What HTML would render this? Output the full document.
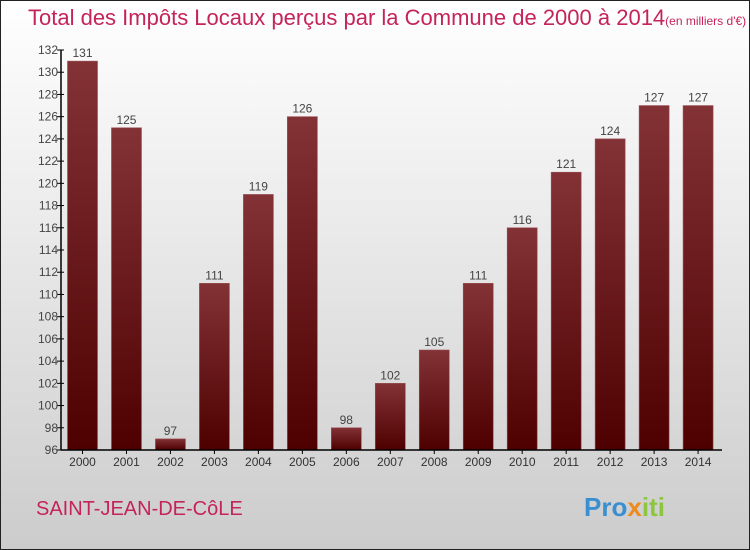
<!DOCTYPE html>
<html><head><meta charset="utf-8"><style>
body{margin:0;}
#c{position:relative;width:750px;height:550px;box-sizing:border-box;border:1px solid #222;background:linear-gradient(#ffffff,#f0f0f0 30%,#cccccc);font-family:"Liberation Sans",sans-serif;overflow:hidden}
</style></head><body>
<div id="c">
<svg width="750" height="550" style="position:absolute;left:-1px;top:-1px">
<defs><linearGradient id="g" x1="0" y1="0" x2="0" y2="1"><stop offset="0" stop-color="#833236"/><stop offset="1" stop-color="#4e0000"/></linearGradient></defs>
<text x="28" y="25" font-size="22" fill="#c4245a">Total des Impôts Locaux perçus par la Commune de 2000 à 2014<tspan font-size="12">(en milliers d'€)</tspan></text>
<g id="plot"></g>
<text x="36" y="515" font-size="20" fill="#c4245a">SAINT-JEAN-DE-CôLE</text>
<text x="584" y="516" font-size="26" font-weight="bold"><tspan fill="#3a8fd0">Pro</tspan><tspan fill="#f08a1c">x</tspan><tspan fill="#8cc63e">iti</tspan></text>
</svg>
</div>
<script>
const years=["2000","2001","2002","2003","2004","2005","2006","2007","2008","2009","2010","2011","2012","2013","2014"];
const values=[131,125,97,111,119,126,98,102,105,111,116,121,124,127,127];
const yTicks=[96,98,100,102,104,106,108,110,112,114,116,118,120,122,124,126,128,130,132];
const NS="http://www.w3.org/2000/svg";
const g=document.getElementById('plot');
const y0=450,y1=50,vmin=96,vmax=132,x0=61,step=43.97,bw=30;
const ys=v=>y0-(v-vmin)/(vmax-vmin)*(y0-y1);
const xs=i=>x0+21.5+i*step;
function mk(t,a){const e=document.createElementNS(NS,t);for(const k in a)e.setAttribute(k,a[k]);g.appendChild(e);return e;}
values.forEach((v,i)=>{
 const r=mk('rect',{x:xs(i)-bw/2,y:ys(v),width:bw,height:y0-ys(v),fill:'url(#g)',stroke:'#9a5055','stroke-width':0.6});
 
 
 const t=mk('text',{x:xs(i),y:ys(v)-4,'text-anchor':'middle','font-size':12,fill:'#444'});
 t.textContent=v;
 
 
 const xl=mk('text',{x:xs(i),y:466,'text-anchor':'middle','font-size':12,fill:'#333'});
 xl.textContent=years[i];
 
 
 const tk=mk('line',{x1:xs(i),x2:xs(i),y1:y0,y2:y0+4,stroke:'#000'});
 
 
});
yTicks.forEach(v=>{
 const l=mk('line',{x1:x0-4,x2:x0+3,y1:ys(v),y2:ys(v),stroke:'#000'});
 
 
 const t=mk('text',{x:x0-3,y:ys(v)+4,'text-anchor':'end','font-size':12,fill:'#444'});
 t.textContent=v;
 
 
});
const ya=mk('line',{x1:x0,x2:x0,y1:y1,y2:y0,stroke:'#000','stroke-width':1.5});


const xa=mk('line',{x1:x0,x2:722,y1:y0,y2:y0,stroke:'#000','stroke-width':1.5});


</script>
</body></html>
